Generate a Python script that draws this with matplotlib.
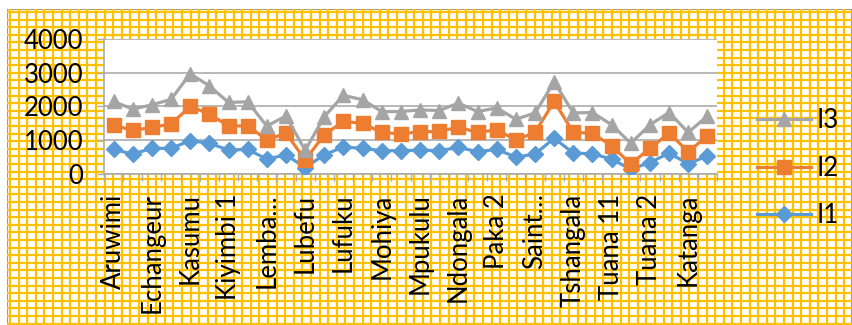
import matplotlib
matplotlib.use("Agg")
import matplotlib.pyplot as plt
from matplotlib.lines import Line2D
from matplotlib.patches import Rectangle
import numpy as np

# Sites along the category axis (only every other one carries a label)
tick_labels = ["Aruwimi", "Echangeur", "Kasumu", "Kiyimbi 1", "Lemba…", "Lubefu",
               "Lufuku", "Mohiya", "Mpukulu", "Ndongala", "Paka 2", "Saint…",
               "Tshangala", "Tuana 11", "Tuana 2", "Katanga"]

# Series values (stacked line chart)
I1 = [730, 590, 760, 760, 990, 910, 710, 730, 440, 570, 190, 570, 800, 760, 690, 690,
      710, 690, 790, 660, 730, 500, 590, 1060, 620, 600, 440, 140, 340, 620, 300, 540]
I2 = [720, 700, 620, 720, 1010, 870, 710, 700, 570, 640, 230, 590, 760, 740, 540, 500,
      540, 570, 600, 570, 580, 510, 640, 1090, 610, 610, 390, 160, 420, 590, 360, 590]
I3 = [700, 630, 670, 730, 970, 830, 700, 710, 410, 510, 280, 540, 770, 700, 620, 660,
      650, 620, 710, 620, 650, 610, 580, 580, 580, 610, 630, 610, 700, 610, 570, 590]

y_ticks = [0, 1000, 2000, 3000, 4000]

W, H = 852, 325
fig = plt.figure(figsize=(W / 100, H / 100), dpi=100)
fig.patch.set_facecolor("white")
FONT = "Lato"
FS = 18.5

# Chart-area background: yellow grid pattern
bg = fig.add_axes([7 / W, 0, 1 - 7 / W, 1 - 9 / H], zorder=0)
bg.set_xlim(7, W)
bg.set_ylim(H, 9)
bg.axis("off")
gold = "#FFC000"
for x in np.arange(10, W + 1, 8.6):
    bg.axvline(x, color=gold, lw=1.6)
for y in np.arange(12, H + 1, 7.6):
    bg.axhline(y, color=gold, lw=1.6)
bg.add_patch(Rectangle((7, 9), W - 7, H - 9, fill=False, ec="#A89C6A", lw=1.5))

# Plot area
ax = fig.add_axes([104 / W, 1 - 174 / H, (717 - 104) / W, (174 - 39) / H], zorder=2)
ax.set_facecolor("white")

n = len(I1)
x = np.arange(n)
s1 = np.array(I1)
s2 = s1 + np.array(I2)
s3 = s2 + np.array(I3)

blue, orange, grey = "#5B9BD5", "#ED7D31", "#A5A5A5"
lw = 2.3
ax.plot(x, s1, color=blue, lw=lw, marker="D", ms=8.5, mec=blue, mfc=blue, label="I1", zorder=3)
ax.plot(x, s2, color=orange, lw=lw, marker="s", ms=9.5, mec=orange, mfc=orange, label="I2", zorder=4)
ax.plot(x, s3, color=grey, lw=lw, marker="^", ms=10, mec=grey, mfc=grey, label="I3", zorder=5)

ax.set_xlim(-0.5, n - 0.5)
ax.set_ylim(0, 4000)
ax.set_yticks(y_ticks)
ax.set_yticklabels([str(v) for v in y_ticks], fontsize=FS, family=FONT)
ax.yaxis.grid(True, color="#ABABAB", lw=1.2)
ax.set_axisbelow(True)

ax.set_xticks(np.arange(0, n, 2))
ax.set_xticklabels(tick_labels, rotation=90, fontsize=FS, family=FONT, va="top", ha="center")
ax.set_xticks(np.arange(-0.5, n, 1), minor=True)
ax.tick_params(axis="x", which="major", length=0, pad=14)
ax.tick_params(axis="x", which="minor", length=5, color="#ABABAB", width=1)
ax.tick_params(axis="y", length=5, color="#ABABAB", width=1, pad=10)

for side in ["top", "right"]:
    ax.spines[side].set_visible(False)
for side in ["left", "bottom"]:
    ax.spines[side].set_color("#ABABAB")
    ax.spines[side].set_linewidth(1.2)

handles = [
    Line2D([], [], color=grey, lw=lw, marker="^", ms=10),
    Line2D([], [], color=orange, lw=lw, marker="s", ms=9.5),
    Line2D([], [], color=blue, lw=lw, marker="D", ms=8.5),
]
fig.legend(handles, ["I3", "I2", "I1"], loc="center left",
           bbox_to_anchor=(734 / W, 1 - 168 / H), frameon=False,
           prop={"family": FONT, "size": FS}, handlelength=2.1,
           labelspacing=0.88, handletextpad=0.2)

fig.savefig("out.png", dpi=100)
